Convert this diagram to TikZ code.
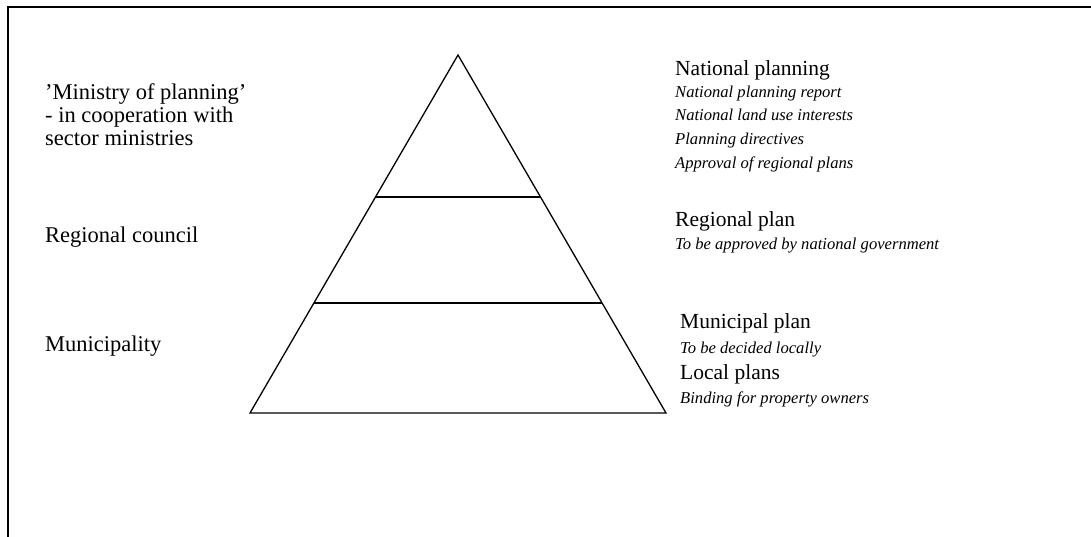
\documentclass[tikz,border=0pt]{standalone}
\usepackage{fontspec}
\setmainfont{Liberation Serif}
\usetikzlibrary{calc}
\begin{document}
\begin{tikzpicture}[x=1pt,y=-1pt,
  lbl/.style={anchor=base west,inner sep=0pt,font=\fontsize{21.5}{25}\selectfont},
  lft/.style={anchor=base west,inner sep=0pt,font=\fontsize{22.5}{26}\selectfont},
  sub/.style={anchor=base west,inner sep=0pt,font=\fontsize{16.6}{20}\selectfont\itshape},
  edge/.style={line width=1.3pt},
  frame/.style={line width=2pt}]
\useasboundingbox (0,0) rectangle (1091,537);
% frame (top and left edges)
\coordinate (fb) at (8,537);
\coordinate (fc) at (8,7);
\coordinate (fr) at (1091,7);
\draw[frame] (fb) -- (fc) -- (fr);
% pyramid
\coordinate (apex) at (458,55);
\coordinate (bl) at (250,413);
\coordinate (br) at (666,413);
\draw[edge,line join=miter] (apex) -- (bl) -- (br) -- cycle;
\coordinate (l1) at ($(apex)!0.3966!(bl)$);
\coordinate (r1) at ($(apex)!0.3966!(br)$);
\coordinate (l2) at ($(apex)!0.6927!(bl)$);
\coordinate (r2) at ($(apex)!0.6927!(br)$);
\draw[edge] (l1) -- (r1);
\draw[edge] (l2) -- (r2);
% left labels
\node[lft] (m1) at (45,100) {'Ministry of planning'};
\node[lft] (m2) at (45,123) {- in cooperation with};
\node[lft] (m3) at (45,146) {sector ministries};
\node[lft] (rc) at (45,242) {Regional council};
\node[lft] (mu) at (45,351) {Municipality};
% right labels
\node[lbl] (np) at (675,76) {National planning};
\node[sub] (n1) at (675,98) {National planning report};
\node[sub] (n2) at (675,121) {National land use interests};
\node[sub] (n3) at (675,145) {Planning directives};
\node[sub] (n4) at (675,169) {Approval of regional plans};
\node[lbl] (rp) at (675,227) {Regional plan};
\node[sub] (r1t) at (675,250) {To be approved by national government};
\node[lbl] (mp) at (680,328) {Municipal plan};
\node[sub] (mp1) at (680,353) {To be decided locally};
\node[lbl] (lp) at (680,379) {Local plans};
\node[sub] (lp1) at (680,403) {Binding for property owners};
\end{tikzpicture}
\end{document}
